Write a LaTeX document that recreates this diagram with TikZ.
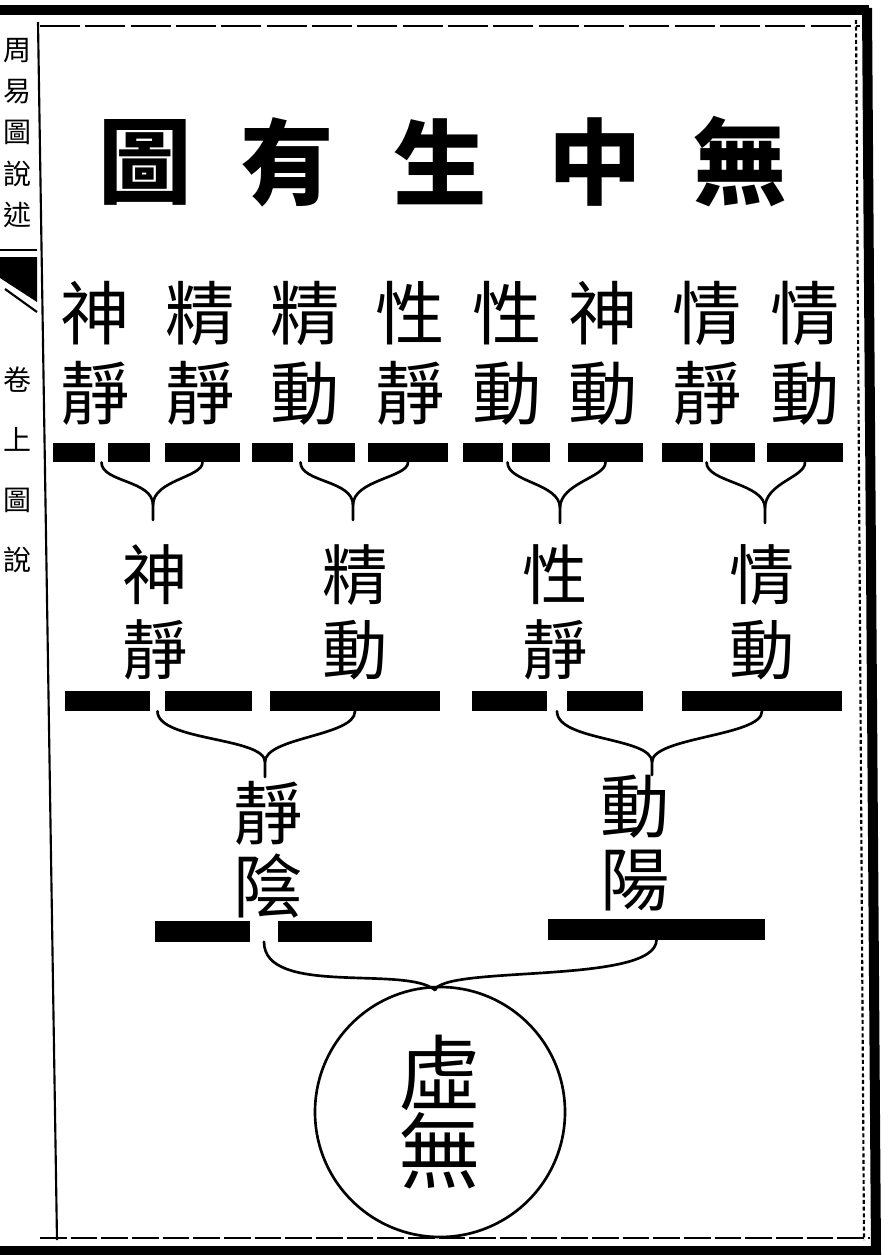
\documentclass[tikz,border=0pt]{standalone}
\usepackage{fontspec}
\newfontfamily\cjk{Noto Sans CJK TC}
\usetikzlibrary{calc}
\begin{document}
\begin{tikzpicture}[x=0.75pt,y=-0.75pt]
  \tikzset{timu/.style={font=\cjk\bfseries\fontsize{70}{70}\selectfont,inner sep=0pt},
    zi/.style={font=\cjk\fontsize{52}{60}\selectfont,align=center,inner sep=0pt},
    zi2/.style={font=\cjk\fontsize{49}{56}\selectfont,align=center,inner sep=0pt},
    zi3/.style={font=\cjk\fontsize{52}{55}\selectfont,align=center,inner sep=0pt},
    bianzi/.style={font=\cjk\fontsize{21}{31}\selectfont,align=center,inner sep=0pt},
    yao/.style={fill=black,inner sep=0pt,minimum height=14.5pt},
    kuo/.style={line width=2pt,line cap=round},
    bian/.style={line width=1.6pt}}
  \useasboundingbox (0,0) rectangle (895,1255);

  % page frame
  \fill (0,5) rectangle (869,15);
  \draw[bian,dash pattern=on 30pt off 4pt] (40,26) -- (860,26);
  \fill (862,8) -- (872,8) -- (881,1255) -- (871,1255) -- cycle;
  \draw[bian,densely dashed] (856,20) -- (864,1240);
  \draw[bian] (38,22) -- (57,1240);
  \draw[line width=1pt,dash pattern=on 20pt off 3pt] (40,1238) -- (870,1238);
  \fill (0,1246) rectangle (881,1255);

  % margin of the block
  \node[bianzi] (shu) at (17,133) {周\\易\\圖\\說\\述};
  \node[bianzi,font=\cjk\fontsize{21}{45}\selectfont] (juan) at (17,470) {卷\\上\\圖\\說};
  \draw[bian] (0,250) -- (37,250);
  \fill (0,257) -- (37,257) -- (37,302) -- (0,278) -- cycle;
  \draw[bian] (5,289) -- (37,312);

  % title
  \node[timu] (t1) at (145,162) {圖};
  \node[timu] (t2) at (287,162) {有};
  \node[timu] (t3) at (440,162) {生};
  \node[timu] (t4) at (595,162) {中};
  \node[timu] (t5) at (740,162) {無};

  % first row
  \node[zi] (sj) at (95,353) {神\\靜};
  \node[zi] (jj) at (200,353) {精\\靜};
  \node[zi] (jd) at (305,353) {精\\動};
  \node[zi] (xj) at (410,353) {性\\靜};
  \node[zi] (xd) at (507,353) {性\\動};
  \node[zi] (sd) at (603,353) {神\\動};
  \node[zi] (qj) at (707,353) {情\\靜};
  \node[zi] (qd) at (805,353) {情\\動};

  \node[yao,minimum width=31.5pt] (sjl) at (74,452.5) {};
  \node[yao,minimum width=31.5pt] (sjr) at (129,452.5) {};
  \node[yao,minimum width=56.25pt] (jjb) at (202.5,452.5) {};
  \node[yao,minimum width=30.75pt] (jdl) at (272.5,452.5) {};
  \node[yao,minimum width=35.25pt] (jdr) at (331.5,452.5) {};
  \node[yao,minimum width=60pt] (xjb) at (408,452.5) {};
  \node[yao,minimum width=30pt] (xdl) at (483,452.5) {};
  \node[yao,minimum width=28.5pt] (xdr) at (531,452.5) {};
  \node[yao,minimum width=56.25pt] (sdb) at (605.5,452.5) {};
  \node[yao,minimum width=30.75pt] (qjl) at (682.5,452.5) {};
  \node[yao,minimum width=33.75pt] (qjr) at (732.5,452.5) {};
  \node[yao,minimum width=57pt] (qdb) at (805,452.5) {};

  \coordinate (k1) at (153,505);
  \coordinate (k2) at (353,505);
  \coordinate (k3) at (560,508);
  \coordinate (k4) at (765,508);
  \draw[kuo] ($(sjl.south east)!.5!(sjr.south west)$) .. controls +(0,20) and +(0,-25) .. (k1) -- ++(0,15);
  \draw[kuo] (jjb.south) .. controls +(0,15) and +(0,-25) .. (k1);
  \draw[kuo] ($(jdl.south east)!.5!(jdr.south west)$) .. controls +(0,20) and +(0,-25) .. (k2) -- ++(0,15);
  \draw[kuo] (xjb.south) .. controls +(0,15) and +(0,-25) .. (k2);
  \draw[kuo] ($(xdl.south east)!.5!(xdr.south west)$) .. controls +(0,20) and +(0,-25) .. (k3) -- ++(0,15);
  \draw[kuo] (sdb.south) .. controls +(0,15) and +(0,-25) .. (k3);
  \draw[kuo] ($(qjl.south east)!.5!(qjr.south west)$) .. controls +(0,20) and +(0,-25) .. (k4) -- ++(0,15);
  \draw[kuo] (qdb.south) .. controls +(0,15) and +(0,-25) .. (k4);

  % second row
  \node[zi2] (sj2) at (155,612) {神\\靜};
  \node[zi2] (jd2) at (355,612) {精\\動};
  \node[zi2] (xj2) at (555,612) {性\\靜};
  \node[zi2] (qd2) at (762,612) {情\\動};

  \node[yao,minimum width=63.75pt,minimum height=15pt] (sj2l) at (107.5,701) {};
  \node[yao,minimum width=65.25pt,minimum height=15pt] (sj2r) at (208.5,701) {};
  \node[yao,minimum width=127.5pt,minimum height=15pt] (jd2b) at (355,701) {};
  \node[yao,minimum width=56.25pt,minimum height=15pt] (xj2l) at (509.5,701) {};
  \node[yao,minimum width=57pt,minimum height=15pt] (xj2r) at (605,701) {};
  \node[yao,minimum width=120pt,minimum height=15pt] (qd2b) at (762,701) {};

  \coordinate (k5) at (265,762);
  \coordinate (k6) at (652,762);
  \draw[kuo] ($(sj2l.south east)!.5!(sj2r.south west)$) .. controls +(0,30) and +(0,-25) .. (k5) -- ++(0,15);
  \draw[kuo] (jd2b.south) .. controls +(0,25) and +(0,-25) .. (k5);
  \draw[kuo] ($(xj2l.south east)!.5!(xj2r.south west)$) .. controls +(0,30) and +(0,-25) .. (k6) -- ++(0,13);
  \draw[kuo] (qd2b.south) .. controls +(0,25) and +(0,-25) .. (k6);

  % third row
  \node[zi3] (jy) at (268,850) {靜\\陰};
  \node[zi3] (dy) at (635,843) {動\\陽};

  \node[yao,minimum width=71.25pt,minimum height=15.75pt] (jyl) at (202.5,931) {};
  \node[yao,minimum width=70.5pt,minimum height=15.75pt] (jyr) at (325,931) {};
  \node[yao,minimum width=162.75pt,minimum height=15.75pt] (dyb) at (656.5,929) {};

  % void
  \node[draw,circle,line width=2pt,minimum size=187.5pt,inner sep=0pt,
    font=\cjk\fontsize{62}{58}\selectfont,align=center] (xw) at (440,1112) {虛\\無};

  \coordinate (k7) at (435,990);
  \draw[kuo] ($(jyl.south east)!.5!(jyr.south west)$) .. controls +(0,55) and +(-30,-25) .. (k7);
  \draw[kuo] (dyb.south) .. controls +(0,45) and +(10,-25) .. (k7);
\end{tikzpicture}
\end{document}
